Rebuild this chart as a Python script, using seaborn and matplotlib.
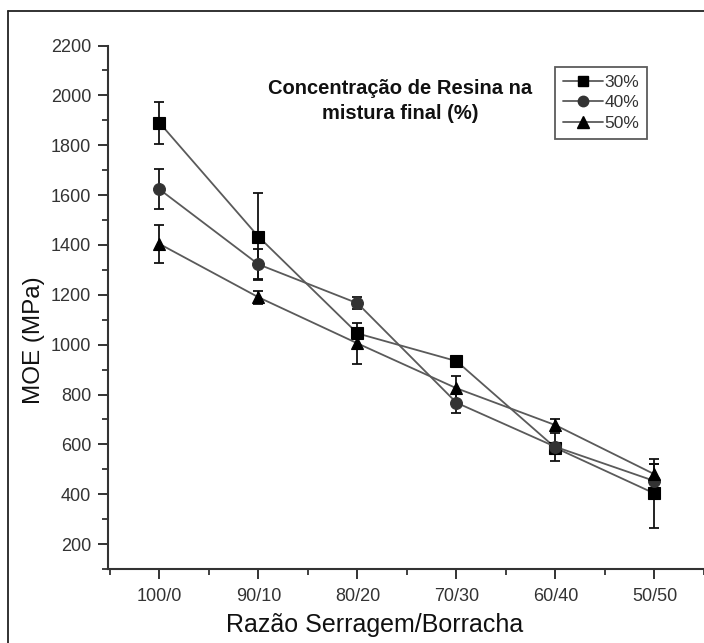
import numpy as np
import pandas as pd
import matplotlib
matplotlib.use("Agg")
import matplotlib.pyplot as plt
from matplotlib.lines import Line2D
from matplotlib.ticker import MultipleLocator, FixedLocator
import seaborn as sns

# Sawdust/rubber ratios on the x axis
categories = ["100/0", "90/10", "80/20", "70/30", "60/40", "50/50"]

# MOE (MPa) for each resin concentration in the final mix
moe_30 = [1890, 1433, 1045, 934, 586, 403]
moe_40 = [1623, 1322, 1166, 767, 590, 453]
moe_50 = [1404, 1190, 1005, 825, 677, 480]

# Standard deviations
err_30 = [85, 175, 20, 12, 20, 140]
err_40 = [80, 60, 25, 40, 55, 70]
err_50 = [76, 25, 83, 50, 25, 40]

series_labels = ["30%", "40%", "50%"]
y_ticks = [200, 400, 600, 800, 1000, 1200, 1400, 1600, 1800, 2000, 2200]

sns.set_style("ticks")
plt.rcParams["font.family"] = ["Liberation Sans", "DejaVu Sans"]

fig = plt.figure(figsize=(7.04, 6.43), dpi=100)
ax = fig.add_axes([108 / 704, 1 - 569 / 643, 596 / 704, 523.5 / 643])

x = np.arange(len(categories))
data = pd.DataFrame({
    "pos": np.tile(x, 3),
    "moe": moe_30 + moe_40 + moe_50,
    "err": err_30 + err_40 + err_50,
    "conc": np.repeat(series_labels, len(categories)),
})

line_color = "#5a5a5a"
markers = {"30%": "s", "40%": "o", "50%": "^"}
face = {"30%": "#000000", "40%": "#333333", "50%": "#000000"}
msize = {"30%": 8, "40%": 8.5, "50%": 9}

for lab in series_labels:
    sub = data[data["conc"] == lab]
    ax.errorbar(sub["pos"], sub["moe"], yerr=sub["err"], fmt="none",
                ecolor="#111111", elinewidth=1.3, capsize=3.5, capthick=1.3,
                zorder=2)
    sns.lineplot(data=sub, x="pos", y="moe", ax=ax, color=line_color,
                 linewidth=1.3, marker=markers[lab], markersize=msize[lab],
                 markerfacecolor=face[lab], markeredgecolor=face[lab],
                 markeredgewidth=0.8, sort=False, legend=False, zorder=3)

ax.set_xlim(-0.52, 5.5)
ax.set_ylim(100, 2200)
ax.set_xticks(x)
ax.set_xticklabels(categories)
ax.xaxis.set_minor_locator(FixedLocator(np.arange(-0.5, 6.0, 1.0)))
ax.set_yticks(y_ticks)
ax.yaxis.set_minor_locator(MultipleLocator(100))

sns.despine(ax=ax)
for side in ["left", "bottom"]:
    ax.spines[side].set_linewidth(1.5)
    ax.spines[side].set_color("#333333")

ax.tick_params(which="major", length=7, width=1.4, color="#333333",
               labelsize=13, labelcolor="#333333", direction="out")
ax.tick_params(which="minor", length=4, width=1.3, color="#333333",
               direction="out")
ax.tick_params(axis="y", pad=5)
ax.tick_params(axis="x", pad=7)

ax.set_xlabel("Razão Serragem/Borracha", fontsize=18, color="#111111")
ax.set_ylabel("MOE (MPa)", fontsize=17.5, color="#111111")
ax.xaxis.set_label_coords(0.448, -0.107)
ax.xaxis.label.set_va("center")
ax.yaxis.set_label_coords(-0.124, 0.437)
ax.yaxis.label.set_va("center")

# Legend title placed as free text to the left of the legend box
fig.text(400 / 704, 1 - 101 / 643,
         "Concentração de Resina na\nmistura final (%)",
         ha="center", va="center", fontsize=14.5, fontweight="bold",
         color="#111111", linespacing=1.45)

handles = [
    Line2D([], [], color=line_color, linewidth=1.3, marker=markers[lab],
           markersize=msize[lab] - 1, markerfacecolor=face[lab],
           markeredgecolor=face[lab])
    for lab in series_labels
]
leg = ax.legend(handles, series_labels, loc="upper left",
                bbox_to_anchor=(555 / 704, 1 - 67 / 643),
                bbox_transform=fig.transFigure, fontsize=12.5,
                handlelength=2.3, handletextpad=0.1, labelspacing=0.3,
                borderpad=0.45, borderaxespad=0, frameon=True, fancybox=False)
leg.get_frame().set_edgecolor("#333333")
leg.get_frame().set_linewidth(1.3)
for t in leg.get_texts():
    t.set_color("#333333")

# Outer figure border (left and top edges)
fig.add_artist(Line2D([8 / 704, 8 / 704], [0, 1 - 11 / 643],
                      transform=fig.transFigure, color="#222222", linewidth=1.3))
fig.add_artist(Line2D([8 / 704, 1.0], [1 - 11 / 643, 1 - 11 / 643],
                      transform=fig.transFigure, color="#222222", linewidth=1.3))

fig.savefig("out.png", dpi=100)
